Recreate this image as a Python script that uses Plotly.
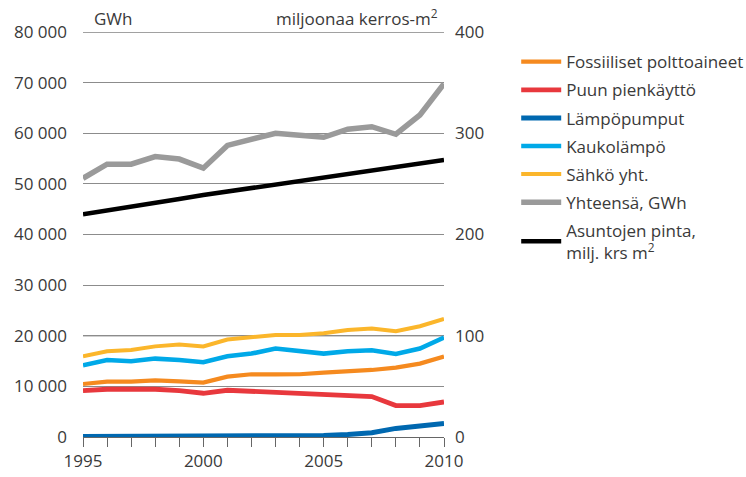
import plotly.graph_objects as go

# Years on the horizontal axis
years = list(range(1995, 2011))

# Energy use by source, GWh
fossiiliset = [10470, 10940, 10940, 11200, 11000, 10740, 11930, 12390, 12390, 12400,
               12720, 12980, 13240, 13710, 14500, 15880]
puun_pienkaytto = [9170, 9430, 9430, 9430, 9170, 8640, 9230, 9030, 8830, 8570,
                   8240, 8240, 7980, 6200, 6200, 6920]
lampopumput = [100, 100, 100, 100, 100, 100, 100, 100, 100, 250,
               300, 500, 850, 1700, 2200, 2650]
kaukolampo = [14170, 15220, 14960, 15490, 15220, 14760, 15950, 16480, 17470, 17000,
              16480, 16940, 17130, 16400, 17470, 19640]
sahko = [15950, 16940, 17200, 17900, 18260, 17900, 19250, 19700, 20160, 20160,
         20500, 21150, 21420, 20890, 21880, 23320]
yhteensa = [51100, 53900, 53900, 55400, 54900, 53100, 57600, 58800, 60000, 59600,
            59200, 60800, 61300, 59800, 63600, 69800]

# Residential floor area, million floor-m2 (right axis)
asuntojen_pinta = [220, 223.5, 227, 231, 235, 239, 242.5, 246, 249.5, 253,
                   256, 259.5, 263, 266.5, 270.5, 273.5]

left_ticks = [0, 10000, 20000, 30000, 40000, 50000, 60000, 70000, 80000]
right_ticks = [0, 100, 200, 300, 400]
x_label_years = [1995, 2000, 2005, 2010]
dark_grid = [20000, 80000]

FONT = "Open Sans"
TEXT = "#3a3a3a"
FS = 17

series = [
    ("Fossiiliset polttoaineet", fossiiliset, "#F58A1F", 4.2, "y"),
    ("Puun pienkäyttö", puun_pienkaytto, "#E8383D", 4.8, "y"),
    ("Lämpöpumput", lampopumput, "#0068B0", 5, "y"),
    ("Kaukolämpö", kaukolampo, "#00A9E8", 4.6, "y"),
    ("Sähkö yht.", sahko, "#FBB62B", 4, "y"),
    ("Yhteensä, GWh", yhteensa, "#9A9A9A", 5.5, "y"),
    ("Asuntojen pinta,<br>milj. krs m<sup>2</sup>", asuntojen_pinta, "#000000", 4.5, "y2"),
]

fig = go.Figure()
for i, (name, vals, color, width, axis) in enumerate(series):
    fig.add_trace(go.Scatter(
        x=years, y=vals, name=name, mode="lines", yaxis=axis,
        legendgroup=f"g{i}",
        line=dict(color=color, width=width),
    ))

# Darker reference gridlines
for yv in dark_grid:
    fig.add_shape(type="line", xref="x", yref="y", x0=years[0], x1=years[-1],
                  y0=yv, y1=yv, line=dict(color="#444444", width=1), layer="below")

fig.update_layout(
    width=746, height=477,
    margin=dict(l=83, r=302, t=32, b=40, autoexpand=False),
    paper_bgcolor="white", plot_bgcolor="white",
    separators=". ",
    font=dict(family=FONT, size=FS, color=TEXT),
    showlegend=True,
    legend=dict(
        x=1.2, xanchor="left", xref="paper",
        y=0.97, yanchor="top", yref="paper",
        font=dict(family=FONT, size=FS, color=TEXT),
        tracegroupgap=3,
        itemwidth=40,
        bgcolor="rgba(0,0,0,0)",
    ),
    xaxis=dict(
        range=[years[0], years[-1]],
        tickmode="array", tickvals=years,
        ticktext=[str(y) if y in x_label_years else "" for y in years],
        ticks="outside", ticklen=9, tickcolor="#666666", tickwidth=1,
        showgrid=False, zeroline=False, automargin=False,
        showline=True, linecolor="#666666", linewidth=1,
        tickfont=dict(family=FONT, size=FS, color=TEXT),
    ),
    yaxis=dict(
        range=[0, 80000],
        tickmode="array", tickvals=left_ticks, tickformat=",d",
        showgrid=True, gridcolor="#8c8c8c", gridwidth=1,
        zeroline=False, ticks="", ticklabelstandoff=15, automargin=False,
        tickfont=dict(family=FONT, size=FS, color=TEXT),
    ),
    yaxis2=dict(
        range=[0, 400], overlaying="y", side="right",
        tickmode="array", tickvals=right_ticks, automargin=False,
        showgrid=False, zeroline=False, ticks="", ticklabelstandoff=10,
        tickfont=dict(family=FONT, size=FS, color=TEXT),
    ),
    annotations=[
        dict(text="GWh", xref="paper", yref="paper", x=0.025, y=1.0,
             xanchor="left", yanchor="bottom", showarrow=False, yshift=0,
             font=dict(family=FONT, size=FS, color=TEXT)),
        dict(text="miljoonaa kerros-m<sup>2</sup>", xref="paper", yref="paper",
             x=0.99, y=1.0, xanchor="right", yanchor="bottom", showarrow=False,
             yshift=0, font=dict(family=FONT, size=FS, color=TEXT)),
    ],
)

fig.write_html("out.html")
